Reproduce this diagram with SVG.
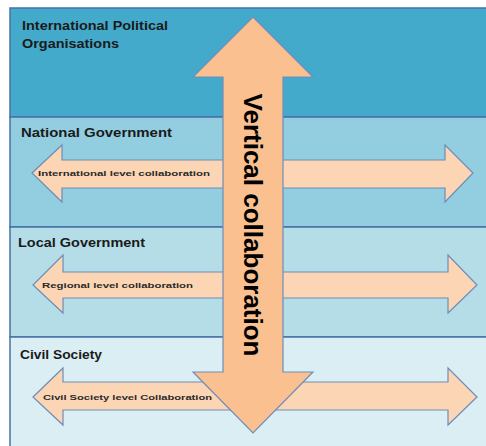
<svg xmlns="http://www.w3.org/2000/svg" width="486" height="446" viewBox="0 0 486 446">
<style>
.band{stroke:#4672A8;stroke-width:1.5}
.h{fill:#FCD5B4;stroke:#6E8DB8;stroke-width:1.2}
.v{fill:#FAC090;stroke:#6E8DB8;stroke-width:1.2}
.lbl{font-family:"Liberation Sans",Arial,sans-serif;font-weight:bold;font-size:12.5px;fill:#1a1a1a}
.sm{font-family:"Liberation Sans",Arial,sans-serif;font-weight:bold;font-size:8px;fill:#2a2a2a}
.vt{font-family:"Liberation Sans",Arial,sans-serif;font-weight:bold;font-size:26px;fill:#000}
</style>
<rect width="486" height="446" fill="#ffffff"/>
<g id="band-international">
<rect class="band" x="10" y="8" width="490" height="109" fill="#44AACB"/>
<text class="lbl" x="22" y="30" textLength="146" lengthAdjust="spacingAndGlyphs">International Political</text>
<text class="lbl" x="22" y="48" textLength="97" lengthAdjust="spacingAndGlyphs">Organisations</text>
</g>
<g id="band-national">
<rect class="band" x="10" y="117" width="490" height="110" fill="#92CDE0"/>
<text class="lbl" x="21" y="137" textLength="151" lengthAdjust="spacingAndGlyphs">National Government</text>
</g>
<g id="band-local">
<rect class="band" x="10" y="227" width="490" height="110" fill="#B5DDE8"/>
<text class="lbl" x="18" y="247" textLength="127" lengthAdjust="spacingAndGlyphs">Local Government</text>
</g>
<g id="band-civil">
<rect class="band" x="10" y="337" width="490" height="115" fill="#DAEEF4"/>
<text class="lbl" x="20" y="359" textLength="82" lengthAdjust="spacingAndGlyphs">Civil Society</text>
</g>
<g id="connectors">
<g id="arrow-international">
<path class="h" d="M32,173 L62,145 L62,160 L445,160 L445,145 L473,173 L445,202 L445,188 L62,188 L62,202 Z"/>
<text class="sm" x="38" y="176" textLength="172" lengthAdjust="spacingAndGlyphs">International level collaboration</text>
</g>
<g id="arrow-regional">
<path class="h" d="M33,285 L63,255 L63,272 L448,272 L448,255 L477,285 L448,313 L448,298 L63,298 L63,313 Z"/>
<text class="sm" x="42" y="288" textLength="151" lengthAdjust="spacingAndGlyphs">Regional level collaboration</text>
</g>
<g id="arrow-civil">
<path class="h" d="M33,397 L63,368 L63,382 L448,382 L448,368 L477,397 L448,425 L448,410 L63,410 L63,425 Z"/>
<text class="sm" x="43" y="400" textLength="169" lengthAdjust="spacingAndGlyphs">Civil Society level Collaboration</text>
</g>
<g id="arrow-vertical">
<path class="v" d="M253,17 L313,77 L283,77 L283,372 L313,372 L253,433 L193,372 L223,372 L223,77 L193,77 Z"/>
<text class="vt" transform="translate(244,225) rotate(90)" text-anchor="middle">Vertical collaboration</text>
</g>
</g>
</svg>
